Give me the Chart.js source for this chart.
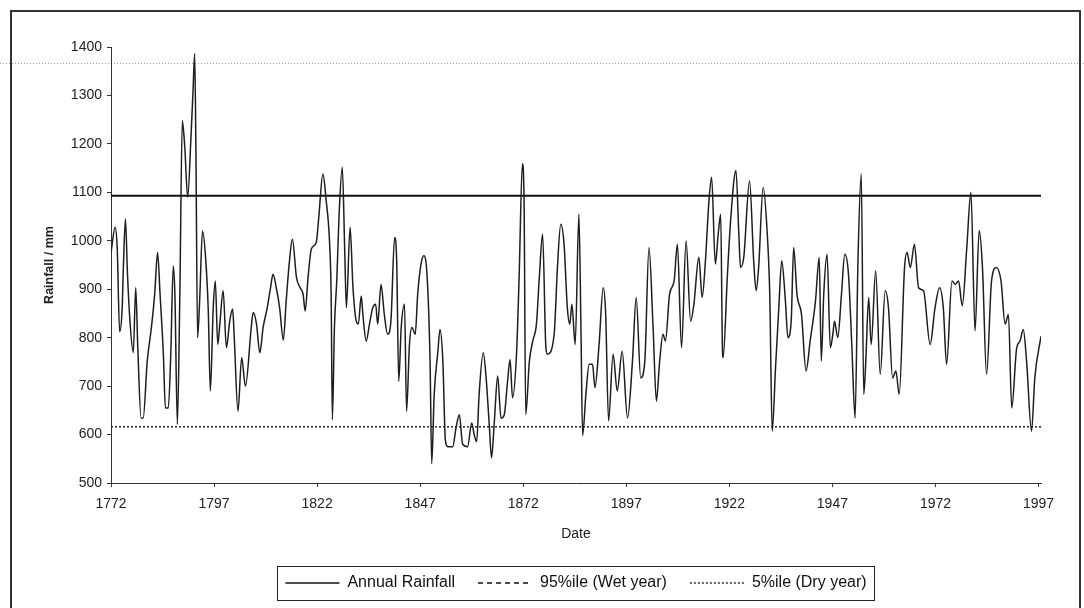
<!DOCTYPE html>
<html>
<head>
<meta charset="utf-8">
<script src="https://cdn.jsdelivr.net/npm/chart.js@4.4.1/dist/chart.umd.min.js"></script>
<style>
html,body{margin:0;padding:0;background:#fff;}
#wrap{position:relative;width:1084px;height:608px;}
</style>
</head>
<body>
<div id="wrap"><canvas id="c" width="1084" height="608"></canvas></div>
<script>
// ---- data ----
const rainYears = [
1772.0,1773.0,1773.5,1774.1,1774.7,1775.0,1775.5,1776.0,1776.6,1777.4,1778.0,1778.5,1779.3,1779.8,1780.8,1781.8,1782.6,1783.3,1783.9,1784.7,
1785.2,1785.9,1786.5,1787.1,1787.5,1788.1,1788.7,1789.3,1789.9,1790.6,1791.4,1791.9,1792.3,1792.6,1793.0,1793.5,1794.2,1795.0,1795.6,1796.1,
1796.8,1797.3,1797.9,1798.4,1799.2,1800.0,1800.8,1801.5,1801.9,1802.8,1803.7,1804.6,1806.1,1806.5,1807.3,1808.1,1808.9,1809.9,1810.7,1811.3,
1812.1,1812.9,1813.8,1814.5,1815.3,1816.0,1817.0,1817.9,1818.6,1819.1,1819.8,1820.6,1821.8,1822.4,1823.4,1824.2,1825.0,1825.4,1825.7,1826.2,
1826.8,1827.3,1828.1,1828.7,1829.1,1830.0,1830.7,1831.5,1832.0,1832.7,1833.1,1833.9,1834.7,1835.5,1836.2,1836.7,1837.5,1838.3,1839.1,1839.9,
1840.8,1841.3,1841.8,1842.4,1843.2,1843.7,1844.4,1845.0,1845.8,1846.4,1847.2,1847.9,1848.7,1849.4,1849.8,1850.4,1851.3,1851.8,1852.5,1853.1,
1853.7,1854.9,1855.7,1856.5,1857.3,1858.5,1859.5,1860.1,1860.7,1861.3,1862.3,1863.0,1863.8,1864.3,1865.0,1865.8,1866.6,1867.4,1868.2,1868.8,
1869.4,1870.4,1871.0,1871.8,1872.2,1872.6,1873.5,1874.3,1875.2,1875.9,1876.7,1877.5,1877.9,1879.5,1880.3,1881.1,1881.9,1882.7,1883.3,1883.8,
1884.6,1885.5,1886.0,1886.4,1887.2,1888.0,1888.8,1889.4,1890.4,1891.4,1892.0,1892.7,1893.8,1894.8,1896.0,1897.3,1898.5,1899.4,1900.5,1901.5,
1902.5,1903.5,1904.3,1905.1,1905.9,1906.5,1907.5,1908.6,1909.4,1910.4,1911.5,1912.6,1913.4,1914.6,1915.4,1916.2,1917.0,1917.7,1918.6,1919.3,
1919.9,1920.3,1920.5,1921.5,1922.3,1923.6,1924.3,1924.7,1925.5,1926.9,1927.9,1928.5,1929.1,1930.2,1931.2,1931.8,1932.4,1933.2,1934.0,1934.7,
1935.6,1936.2,1937.0,1937.6,1938.4,1939.5,1940.6,1941.6,1942.9,1943.8,1944.3,1944.9,1945.7,1946.5,1947.1,1947.5,1948.3,1949.2,1950.0,1950.9,
1951.7,1952.5,1953.2,1954.0,1954.6,1955.1,1955.8,1956.4,1957.5,1958.6,1959.8,1960.6,1961.6,1962.4,1963.2,1964.5,1965.1,1965.9,1966.9,1967.9,
1969.1,1970.7,1971.9,1973.0,1973.9,1974.7,1976.0,1976.8,1977.6,1978.5,1979.6,1980.6,1981.6,1982.6,1983.4,1984.4,1985.6,1986.8,1987.9,1988.9,
1989.7,1990.5,1991.7,1992.5,1993.3,1994.1,1995.3,1996.1,1997.6
];
const rainValues = [
975,1028,986,812,859,945,1045,931,834,769,903,779,634,634,752,821,890,976,890,766,
655,655,766,948,890,621,890,1248,1193,1090,1214,1310,1386,1186,800,876,1020,959,855,690,
862,917,786,828,897,779,834,859,800,648,759,700,828,852,828,769,821,862,903,931,
903,862,795,876,959,1003,924,903,890,855,924,983,997,1048,1138,1083,1000,890,631,821,
924,1048,1152,979,862,1028,903,834,828,886,848,793,828,862,869,828,910,848,807,834,
1007,959,710,821,869,648,786,821,807,890,952,969,924,752,540,683,772,817,752,590,
575,575,614,641,580,575,624,600,585,683,769,717,614,552,628,721,634,641,710,755,
676,772,924,1159,1083,641,752,793,828,924,1014,779,766,807,945,1034,993,862,828,869,
786,1055,821,598,683,745,745,697,786,903,848,628,766,690,772,634,752,883,717,752,
986,821,669,752,807,793,890,917,993,779,1000,834,869,966,883,959,1076,1131,952,1014,
1055,786,759,924,1041,1145,1014,945,966,1124,959,897,945,1110,1014,890,607,738,862,959,
876,800,834,986,890,848,731,793,876,966,752,890,972,779,807,834,800,890,972,931,
786,634,959,1138,683,752,883,786,938,724,897,862,717,731,683,945,976,945,993,903,
897,786,862,903,862,745,917,910,917,866,986,1100,814,1021,945,724,917,945,917,828,
848,655,779,793,817,752,607,717,803
];
const lineSpan = [1772, 1997.6];
const wetYearValues = [1093, 1093];
const dryYearValues = [616, 616];
const xTickYears = [1772, 1797, 1822, 1847, 1872, 1897, 1922, 1947, 1972, 1997];
const yRange = [500, 1400];
const seriesNames = ['Annual Rainfall', '95%ile (Wet year)', '5%ile (Dry year)'];

const FONT = '"Liberation Sans", Arial, sans-serif';

const rainData = rainYears.map((yr, i) => ({x: yr, y: rainValues[i]}));
const wetData = lineSpan.map((yr, i) => ({x: yr, y: wetYearValues[i]}));
const dryData = lineSpan.map((yr, i) => ({x: yr, y: dryYearValues[i]}));

const legendDash = [[], [5, 4], [2, 2]];

const decor = {
  id: 'decor',
  beforeDraw(chart) {
    const ctx = chart.ctx;
    ctx.save();
    ctx.fillStyle = '#fff';
    ctx.fillRect(0, 0, chart.width, chart.height);
    // faint dotted scan line near the top
    const yy = Math.round(chart.scales.y.getPixelForValue(1366)) + 0.5;
    ctx.strokeStyle = '#a0a0a0';
    ctx.lineWidth = 1;
    ctx.setLineDash([1, 2]);
    ctx.beginPath(); ctx.moveTo(0, yy); ctx.lineTo(chart.width, yy); ctx.stroke();
    ctx.restore();
  },
  afterDraw(chart) {
    const ctx = chart.ctx;
    ctx.save();
    // outer chart border
    ctx.strokeStyle = '#333';
    ctx.lineWidth = 2;
    ctx.setLineDash([]);
    ctx.beginPath();
    ctx.moveTo(11, chart.height + 5); ctx.lineTo(11, 11); ctx.lineTo(1080, 11); ctx.lineTo(1080, chart.height + 5);
    ctx.stroke();
    // legend border
    const hb = chart.legend.legendHitBoxes;
    if (hb && hb.length) {
      const l = Math.min(...hb.map(h => h.left)) - 8;
      const r = Math.max(...hb.map(h => h.left + h.width)) + 8;
      const t = Math.min(...hb.map(h => h.top)) - 9;
      const b = Math.max(...hb.map(h => h.top + h.height)) + 9;
      ctx.lineWidth = 1;
      ctx.strokeStyle = '#222';
      ctx.strokeRect(Math.round(l) + 0.5, Math.round(t) + 0.5, Math.round(r - l), Math.round(b - t));
    }
    ctx.restore();
  }
};

new Chart(document.getElementById('c'), {
  type: 'line',
  data: {
    datasets: [
      {label: seriesNames[0], data: rainData, borderColor: '#1e1e1e', borderWidth: 1.5, pointRadius: 0, cubicInterpolationMode: 'monotone', fill: false},
      {label: seriesNames[1], data: wetData, borderColor: '#111', borderWidth: 2, pointRadius: 0, fill: false},
      {label: seriesNames[2], data: dryData, borderColor: '#222', borderWidth: 1.5, borderDash: [2, 2], pointRadius: 0, fill: false}
    ]
  },
  options: {
    responsive: false,
    animation: false,
    devicePixelRatio: 1,
    layout: {padding: {left: 12, right: 43, top: 47, bottom: 7}},
    plugins: {
      tooltip: {enabled: false},
      legend: {
        position: 'bottom',
        fullSize: false,
        labels: {
          usePointStyle: true,
          pointStyleWidth: 54,
          padding: 23,
          font: {family: FONT, size: 16},
          color: '#111',
          generateLabels(chart) {
            return chart.data.datasets.map((ds, i) => ({
              text: ds.label,
              fillStyle: 'rgba(0,0,0,0)',
              strokeStyle: '#111',
              lineWidth: 1.3,
              lineDash: legendDash[i],
              pointStyle: 'line',
              hidden: false,
              datasetIndex: i,
              fontColor: '#111'
            }));
          }
        }
      }
    },
    scales: {
      x: {
        type: 'linear',
        min: lineSpan[0],
        max: lineSpan[1],
        afterBuildTicks(s) { s.ticks = xTickYears.map(v => ({value: v})); },
        afterFit(s) { s.height = 69; },
        ticks: {autoSkip: false, maxRotation: 0, padding: 9, color: '#222', font: {family: FONT, size: 14}, callback: v => String(v)},
        grid: {display: true, drawOnChartArea: false, drawTicks: true, tickLength: 4, color: '#333'},
        border: {display: true, color: '#333', width: 1},
        title: {display: true, text: 'Date', color: '#222', font: {family: FONT, size: 14}, padding: {top: 2, bottom: 9}}
      },
      y: {
        min: yRange[0],
        max: yRange[1],
        afterFit(s) { s.width = 99; },
        ticks: {stepSize: 100, padding: 5, color: '#222', font: {family: FONT, size: 14}, callback: v => String(v)},
        grid: {display: true, drawOnChartArea: false, drawTicks: true, tickLength: 4, color: '#333'},
        border: {display: true, color: '#333', width: 1},
        title: {display: true, text: 'Rainfall / mm', color: '#222', font: {family: FONT, size: 12.5, weight: 'bold'}, padding: {top: 30, bottom: 0}}
      }
    }
  },
  plugins: [decor]
});
</script>
</body>
</html>
